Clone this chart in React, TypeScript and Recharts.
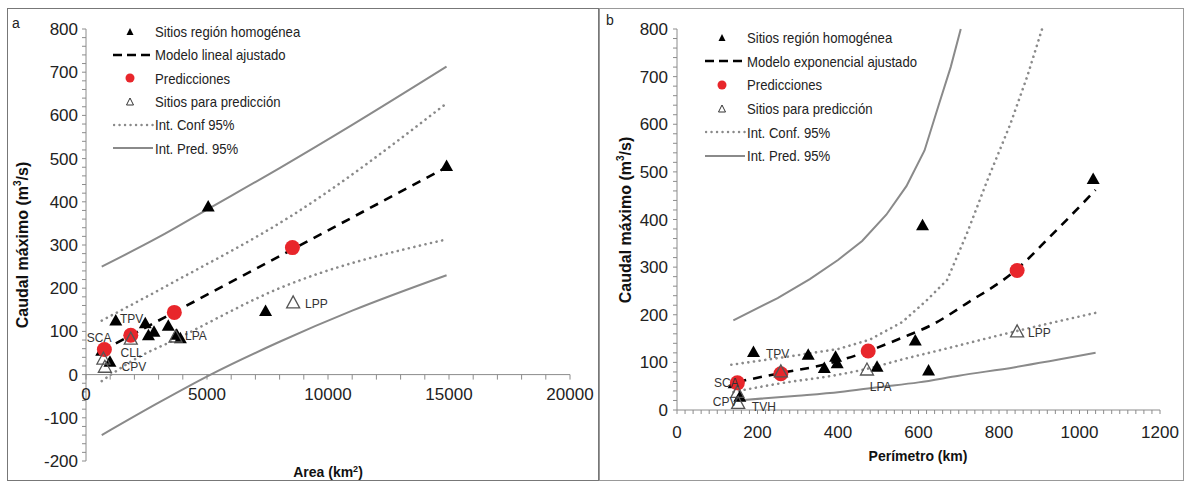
import React from "react";
import { ComposedChart, Line, Scatter, XAxis, YAxis, ReferenceLine } from "recharts";

type Pt = { x: number; y: number };
type Lbl = { x: number; y: number; text: string };

// ---------- panel a: Area (km2) vs caudal maximo ----------
const areaSites: Pt[] = [
  { x: 650, y: 55 }, { x: 990, y: 30 }, { x: 1230, y: 125 }, { x: 2450, y: 119 },
  { x: 2580, y: 91 }, { x: 2810, y: 99 }, { x: 3400, y: 113 }, { x: 3750, y: 92 },
  { x: 3900, y: 84 }, { x: 5050, y: 389 }, { x: 7420, y: 147 }, { x: 14900, y: 483 },
];
const areaPredictions: Pt[] = [
  { x: 760, y: 58 }, { x: 1850, y: 91 }, { x: 3650, y: 144 }, { x: 8530, y: 294 },
];
const areaNewSites: Pt[] = [
  { x: 720, y: 36 }, { x: 780, y: 17 }, { x: 1850, y: 82 }, { x: 3700, y: 87 }, { x: 8560, y: 166 },
];
const areaFit: Pt[] = [{ x: 650, y: 55 }, { x: 14900, y: 480 }];
const areaConfUp: Pt[] = [
  { x: 650, y: 125 }, { x: 3650, y: 215 }, { x: 8500, y: 368 }, { x: 14900, y: 628 },
];
const areaConfLo: Pt[] = [
  { x: 650, y: -15 }, { x: 2000, y: 35 }, { x: 3650, y: 80 }, { x: 8000, y: 200 }, { x: 14900, y: 313 },
];
const areaPredUp: Pt[] = [
  { x: 650, y: 250 }, { x: 3000, y: 318 }, { x: 5000, y: 382 }, { x: 8000, y: 478 },
  { x: 11000, y: 578 }, { x: 14900, y: 713 },
];
const areaPredLo: Pt[] = [
  { x: 650, y: -140 }, { x: 3000, y: -65 }, { x: 5150, y: 0 }, { x: 8000, y: 76 },
  { x: 11000, y: 148 }, { x: 14900, y: 230 },
];
const areaLabels: Lbl[] = [
  { x: 30, y: 85, text: "SCA" }, { x: 1400, y: 130, text: "TPV" }, { x: 1430, y: 51, text: "CLL" },
  { x: 1470, y: 17, text: "CPV" }, { x: 4090, y: 89, text: "LPA" }, { x: 9050, y: 165, text: "LPP" },
];
const areaXMajor = [0, 5000, 10000, 15000, 20000];
const areaYMajor = [-200, -100, 0, 100, 200, 300, 400, 500, 600, 700, 800];

// ---------- panel b: Perimetro (km) vs caudal maximo ----------
const perimSites: Pt[] = [
  { x: 142, y: 56 }, { x: 156, y: 28 }, { x: 190, y: 122 }, { x: 326, y: 116 },
  { x: 366, y: 88 }, { x: 394, y: 112 }, { x: 398, y: 98 }, { x: 497, y: 91 },
  { x: 592, y: 146 }, { x: 625, y: 83 }, { x: 610, y: 388 }, { x: 1034, y: 485 },
];
const perimPredictions: Pt[] = [
  { x: 150, y: 57 }, { x: 258, y: 76 }, { x: 475, y: 124 }, { x: 845, y: 293 },
];
const perimNewSites: Pt[] = [
  { x: 150, y: 37 }, { x: 152, y: 14 }, { x: 258, y: 80 }, { x: 472, y: 84 }, { x: 845, y: 164 },
];
const perimFit: Pt[] = [
  { x: 150, y: 59 }, { x: 260, y: 78 }, { x: 370, y: 96 }, { x: 470, y: 122 }, { x: 554, y: 150 },
  { x: 636, y: 180 }, { x: 720, y: 224 }, { x: 841, y: 293 }, { x: 927, y: 364 }, { x: 1040, y: 462 },
];
const perimConfUp: Pt[] = [
  { x: 135, y: 95 }, { x: 260, y: 110 }, { x: 400, y: 128 }, { x: 480, y: 148 }, { x: 560, y: 185 },
  { x: 620, y: 230 }, { x: 671, y: 273 }, { x: 720, y: 370 }, { x: 770, y: 480 }, { x: 828, y: 600 },
  { x: 870, y: 700 }, { x: 907, y: 800 },
];
const perimConfLo: Pt[] = [
  { x: 140, y: 38 }, { x: 250, y: 55 }, { x: 400, y: 74 }, { x: 480, y: 88 }, { x: 554, y: 105 },
  { x: 650, y: 125 }, { x: 840, y: 165 }, { x: 1040, y: 204 },
];
const perimPredUp: Pt[] = [
  { x: 140, y: 188 }, { x: 250, y: 235 }, { x: 330, y: 275 }, { x: 400, y: 315 }, { x: 460, y: 355 },
  { x: 520, y: 410 }, { x: 570, y: 470 }, { x: 615, y: 545 }, { x: 650, y: 640 }, { x: 680, y: 720 },
  { x: 705, y: 800 },
];
const perimPredLo: Pt[] = [
  { x: 150, y: 20 }, { x: 300, y: 30 }, { x: 405, y: 38 }, { x: 500, y: 48 }, { x: 600, y: 58 },
  { x: 700, y: 72 }, { x: 840, y: 90 }, { x: 1040, y: 120 },
];
const perimLabels: Lbl[] = [
  { x: 92, y: 57, text: "SCA" }, { x: 221, y: 119, text: "TPV" }, { x: 89, y: 17, text: "CPV" },
  { x: 186, y: 6, text: "TVH" }, { x: 479, y: 49, text: "LPA" }, { x: 872, y: 162, text: "LPP" },
];
const perimXMajor = [0, 200, 400, 600, 800, 1000, 1200];
const perimYMajor = [0, 100, 200, 300, 400, 500, 600, 700, 800];

const legendA = [
  "Sitios región homogénea", "Modelo lineal ajustado", "Predicciones",
  "Sitios para predicción", "Int. Conf 95%", "Int. Pred. 95%",
];
const legendB = [
  "Sitios región homogénea", "Modelo exponencial ajustado", "Predicciones",
  "Sitios para predicción", "Int. Conf. 95%", "Int. Pred. 95%",
];

// ---------- styling ----------
const ARIAL = "'Liberation Sans', Arial, sans-serif";
const RED = "#e8262b";
const GREY = "#8a8a8a";
const AXIS = "#8c8c8c";

const A_W = 600;
const A_H = 482;
const A_MARGIN = { top: 29, right: 30, bottom: 1, left: 26 };
const A_XAXIS_H = 20;
const A_PLOT_H = A_H - A_MARGIN.top - A_MARGIN.bottom - A_XAXIS_H;
const A_ZERO_SHIFT = (A_PLOT_H * 200) / 1000; // distance from y=-200 up to y=0

const B_W = 585;
const B_H = 482;
const B_MARGIN = { top: 29, right: 25, bottom: 42, left: 27 };

function withMinor(major: number[], parts: number) {
  const out: number[] = [];
  for (let i = 0; i < major.length - 1; i++) {
    const step = (major[i + 1] - major[i]) / parts;
    for (let k = 0; k < parts; k++) out.push(major[i] + k * step);
  }
  out.push(major[major.length - 1]);
  return out;
}

const solidTri = (p: any) => (
  <polygon points={`${p.cx},${p.cy - 6.5} ${p.cx - 6.5},${p.cy + 5} ${p.cx + 6.5},${p.cy + 5}`} fill="#000" />
);
const openTri = (p: any) => (
  <polygon
    points={`${p.cx},${p.cy - 7} ${p.cx - 6.5},${p.cy + 5} ${p.cx + 6.5},${p.cy + 5}`}
    fill="none"
    stroke="#555"
    strokeWidth={1.3}
  />
);
const redDot = (p: any) => <circle cx={p.cx} cy={p.cy} r={7.5} fill={RED} />;
const siteText = (p: any) => (
  <text x={p.cx} y={p.cy} dy="0.35em" fontSize={12} fontFamily={ARIAL} fill="#333">
    {p.payload.text}
  </text>
);

function AreaXTick(props: any) {
  const { x, y, payload } = props;
  const y0 = y - A_ZERO_SHIFT;
  const major = areaXMajor.includes(payload.value);
  return (
    <g>
      <line x1={x} x2={x} y1={y0} y2={y0 + 5} stroke={AXIS} />
      {major && (
        <text x={x} y={y0 + 19} dy="0.35em" textAnchor="middle" fontSize={17} fontFamily={ARIAL} fill="#222">
          {payload.value}
        </text>
      )}
    </g>
  );
}

function LegendSymbol({ idx }: { idx: number }) {
  const c = 8;
  if (idx === 0) return <polygon points={`17,${c - 4} 13.5,${c + 3} 20.5,${c + 3}`} fill="#000" />;
  if (idx === 1) return <line x1={0} x2={40} y1={c} y2={c} stroke="#000" strokeWidth={2.6} strokeDasharray="9 5" />;
  if (idx === 2) return <circle cx={17} cy={c} r={4.5} fill={RED} />;
  if (idx === 3)
    return <polygon points={`17,${c - 4} 13.5,${c + 3} 20.5,${c + 3}`} fill="none" stroke="#333" strokeWidth={1} />;
  if (idx === 4)
    return (
      <line x1={1} x2={40} y1={c} y2={c} stroke={GREY} strokeWidth={2.4} strokeDasharray="0.1 5.4" strokeLinecap="round" />
    );
  return <line x1={0} x2={40} y1={c} y2={c} stroke={GREY} strokeWidth={1.8} />;
}

function LegendBox({ left, top, rowH, labels }: { left: number; top: number; rowH: number; labels: string[] }) {
  return (
    <div style={{ position: "absolute", left, top }}>
      {labels.map((t, i) => (
        <div key={t} style={{ display: "flex", alignItems: "center", height: rowH }}>
          <svg width={41} height={16}>
            <LegendSymbol idx={i} />
          </svg>
          <span
            style={{
              display: "inline-block",
              fontFamily: ARIAL,
              fontSize: 15,
              color: "#222",
              marginLeft: 1,
              whiteSpace: "nowrap",
              transform: "scaleX(0.875)",
              transformOrigin: "left center",
            }}
          >
            {t}
          </span>
        </div>
      ))}
    </div>
  );
}

const titleStyle: React.CSSProperties = {
  position: "absolute",
  fontFamily: ARIAL,
  fontWeight: "bold",
  fontSize: 14,
  color: "#111",
  whiteSpace: "nowrap",
};
const yTitleStyle: React.CSSProperties = {
  ...titleStyle,
  fontSize: 16,
  transform: "translate(-50%, -50%) rotate(-90deg)",
};

export default function App() {
  const yTickA = withMinor(areaYMajor, 5);
  const xTickA = withMinor(areaXMajor, 5);
  const yTickB = withMinor(perimYMajor, 5);
  const xTickB = withMinor(perimXMajor, 10);
  const tickStyle = { fontSize: 17, fill: "#222", fontFamily: ARIAL };

  return (
    <div style={{ position: "absolute", left: 0, top: 0, width: 1185, height: 482, background: "#fff", overflow: "hidden" }}>
      <div style={{ position: "absolute", left: 7, top: 8, width: 590, height: 471, border: "1px solid #777" }} />
      <div style={{ position: "absolute", left: 599, top: 8, width: 583, height: 471, border: "1px solid #999" }} />

      <div style={{ position: "absolute", left: 0, top: 0 }}>
        <ComposedChart width={A_W} height={A_H} margin={A_MARGIN}>
          <XAxis
            type="number"
            dataKey="x"
            domain={[0, 20000]}
            ticks={xTickA}
            interval={0}
            height={A_XAXIS_H}
            axisLine={false}
            tickLine={false}
            tickSize={0}
            tickMargin={0}
            tick={<AreaXTick />}
          />
          <YAxis
            type="number"
            dataKey="y"
            domain={[-200, 800]}
            ticks={yTickA}
            interval={0}
            width={60}
            stroke={AXIS}
            tickSize={4}
            tickMargin={4}
            tick={tickStyle}
            tickFormatter={(v: number) => (areaYMajor.includes(v) ? String(v) : "")}
          />
          <ReferenceLine y={0} stroke={AXIS} />
          <Line data={areaPredUp} dataKey="y" type="monotone" stroke={GREY} strokeWidth={2} dot={false} isAnimationActive={false} />
          <Line data={areaPredLo} dataKey="y" type="monotone" stroke={GREY} strokeWidth={2} dot={false} isAnimationActive={false} />
          <Line data={areaConfUp} dataKey="y" type="monotone" stroke={GREY} strokeWidth={2.6} strokeDasharray="0.1 5.6" strokeLinecap="round" dot={false} isAnimationActive={false} />
          <Line data={areaConfLo} dataKey="y" type="monotone" stroke={GREY} strokeWidth={2.6} strokeDasharray="0.1 5.6" strokeLinecap="round" dot={false} isAnimationActive={false} />
          <Line data={areaFit} dataKey="y" type="linear" stroke="#000" strokeWidth={2.6} strokeDasharray="9 7" dot={false} isAnimationActive={false} />
          <Scatter data={areaSites} dataKey="y" shape={solidTri} isAnimationActive={false} />
          <Scatter data={areaPredictions} dataKey="y" shape={redDot} isAnimationActive={false} />
          <Scatter data={areaNewSites} dataKey="y" shape={openTri} isAnimationActive={false} />
          <Scatter data={areaLabels} dataKey="y" shape={siteText} isAnimationActive={false} />
        </ComposedChart>
      </div>

      <div style={{ position: "absolute", left: 600, top: 0 }}>
        <ComposedChart width={B_W} height={B_H} margin={B_MARGIN}>
          <XAxis
            type="number"
            dataKey="x"
            domain={[0, 1200]}
            ticks={xTickB}
            interval={0}
            height={30}
            stroke={AXIS}
            tickSize={4}
            tickMargin={12}
            tick={tickStyle}
            tickFormatter={(v: number) => (perimXMajor.includes(v) ? String(v) : "")}
          />
          <YAxis
            type="number"
            dataKey="y"
            domain={[0, 800]}
            ticks={yTickB}
            interval={0}
            width={50}
            stroke={AXIS}
            tickSize={4}
            tickMargin={5}
            tick={tickStyle}
            tickFormatter={(v: number) => (perimYMajor.includes(v) ? String(v) : "")}
          />
          <Line data={perimPredUp} dataKey="y" type="linear" stroke={GREY} strokeWidth={2} dot={false} isAnimationActive={false} />
          <Line data={perimPredLo} dataKey="y" type="monotone" stroke={GREY} strokeWidth={2} dot={false} isAnimationActive={false} />
          <Line data={perimConfUp} dataKey="y" type="linear" stroke={GREY} strokeWidth={2.6} strokeDasharray="0.1 5.6" strokeLinecap="round" dot={false} isAnimationActive={false} />
          <Line data={perimConfLo} dataKey="y" type="monotone" stroke={GREY} strokeWidth={2.6} strokeDasharray="0.1 5.6" strokeLinecap="round" dot={false} isAnimationActive={false} />
          <Line data={perimFit} dataKey="y" type="monotone" stroke="#000" strokeWidth={2.6} strokeDasharray="9 7" dot={false} isAnimationActive={false} />
          <Scatter data={perimSites} dataKey="y" shape={solidTri} isAnimationActive={false} />
          <Scatter data={perimPredictions} dataKey="y" shape={redDot} isAnimationActive={false} />
          <Scatter data={perimNewSites} dataKey="y" shape={openTri} isAnimationActive={false} />
          <Scatter data={perimLabels} dataKey="y" shape={siteText} isAnimationActive={false} />
        </ComposedChart>
      </div>

      <LegendBox left={113} top={20} rowH={23.3} labels={legendA} />
      <LegendBox left={705} top={26} rowH={23.6} labels={legendB} />

      <div style={{ ...yTitleStyle, left: 22, top: 245 }}>
        Caudal máximo (m<sup style={{ fontSize: 10 }}>3</sup>/s)
      </div>
      <div style={{ ...yTitleStyle, left: 625, top: 220 }}>
        Caudal máximo (m<sup style={{ fontSize: 10 }}>3</sup>/s)
      </div>
      <div style={{ ...titleStyle, left: 328, top: 472, transform: "translate(-50%, -50%)" }}>
        Area (km<sup style={{ fontSize: 9 }}>2</sup>)
      </div>
      <div style={{ ...titleStyle, left: 918, top: 456, transform: "translate(-50%, -50%)" }}>Perímetro (km)</div>

      <div style={{ position: "absolute", left: 12, top: 15, fontFamily: ARIAL, fontSize: 14, color: "#222" }}>a</div>
      <div style={{ position: "absolute", left: 606, top: 12, fontFamily: ARIAL, fontSize: 14, color: "#222" }}>b</div>
    </div>
  );
}
